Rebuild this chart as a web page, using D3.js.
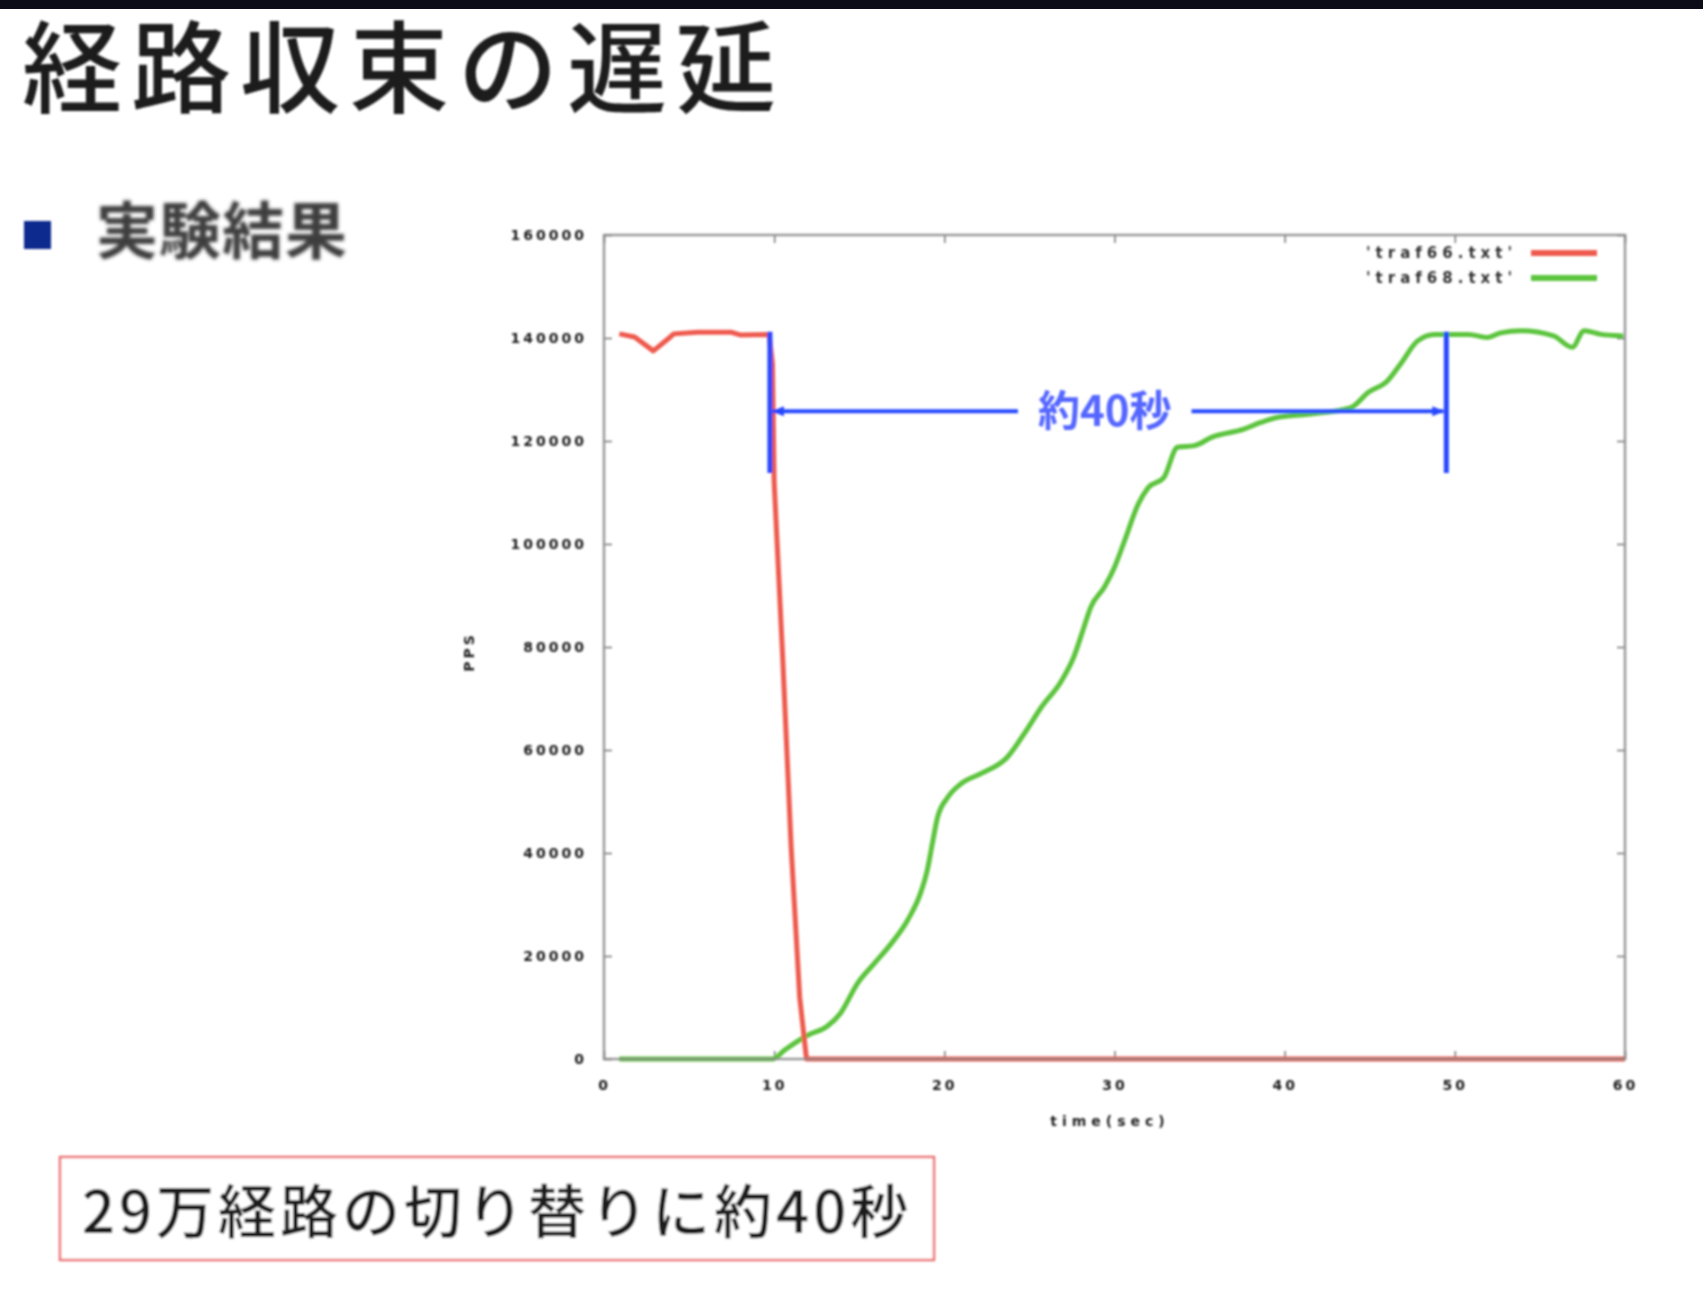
<!DOCTYPE html>
<html>
<head>
<meta charset="utf-8">
<script src="https://cdn.jsdelivr.net/npm/d3@7"></script>
<style>
  html, body { margin: 0; padding: 0; background: #ffffff; }
  svg { display: block; }
</style>
</head>
<body>
<svg id="slide" width="1703" height="1294"></svg>
<script>
// ---- slide text ----
const slideTitle = "経路収束の遅延";
const bulletText = "実験結果";
const noteText = "29万経路の切り替りに約40秒";
const spanLabel = "約40秒";

// ---- axes ----
const xTicks = [0, 10, 20, 30, 40, 50, 60];
const yTicks = [0, 20000, 40000, 60000, 80000, 100000, 120000, 140000, 160000];
const xAxisLabel = "time(sec)";
const yAxisLabel = "PPS";
const seriesNames = ["'traf66.txt'", "'traf68.txt'"];

// ---- series: packets per second over time ----
const redTime = [0.9, 1.8, 2.9, 3.9, 4.1, 5.5, 7.5, 8.0, 9.7, 9.9, 10.0, 10.5, 11.0, 11.5, 11.9, 60];
const redPps  = [140800, 140200, 137500, 140200, 140800, 141100, 141100, 140600, 140700, 135000, 112000, 78000, 41000, 12000, 0, 0];

const greenTime = [0.9, 9.9, 10.6, 12.0, 13.1, 13.9, 14.9, 15.9, 16.9, 17.85, 18.6, 19.0, 19.3, 19.6, 20.2, 21.0,
                   22.2, 23.7, 24.7, 25.7, 26.9, 27.6, 28.2, 28.6, 29.4, 30.0, 30.6, 31.4, 32.0, 32.9, 33.7, 34.7,
                   35.7, 37.6, 38.6, 39.6, 41.4, 43.9, 44.9, 46.05, 46.8, 47.8, 48.8, 49.6, 50.8, 51.9, 52.7, 53.9,
                   55.8, 56.9, 57.6, 58.6, 59.9];
const greenPps  = [0, 0, 1700, 4650, 6300, 8900, 14700, 18600, 22500, 27000, 32200, 36700, 41900, 46900, 50800, 53500,
                   55500, 58600, 63200, 68300, 73500, 78000, 83800, 87700, 91600, 95500, 100700, 107800, 111000, 112900, 118800, 119100,
                   120700, 122300, 123600, 124600, 125200, 126500, 129400, 131700, 134900, 139400, 140700, 140700, 140700, 140100, 141000, 141400,
                   140400, 138200, 141400, 140700, 140400];

// ---- convergence span annotation ----
const spanTimes = [9.75, 49.5];              // start / end of the switchover (s)
const spanLevels = [113800, 125800, 141200]; // bar bottom, arrow level, bar top

const svg = d3.select("#slide");
const defs = svg.append("defs");
const addBlur = (id, sd) => defs.append("filter").attr("id", id)
  .attr("filterUnits", "userSpaceOnUse")
  .attr("x", 0).attr("y", 0).attr("width", 1703).attr("height", 1294)
  .append("feGaussianBlur").attr("stdDeviation", sd);
addBlur("soft", 1.1);
addBlur("softer", 1.5);

svg.append("rect").attr("width", 1703).attr("height", 1294).attr("fill", "#ffffff");
svg.append("rect").attr("x", 0).attr("y", 0).attr("width", 1703).attr("height", 9).attr("fill", "#0c0c18");

const cjk = "'Noto Sans CJK JP', 'Noto Sans', sans-serif";

// ---- title and bullet ----
const head = svg.append("g").attr("filter", "url(#soft)");
head.append("text")
  .attr("x", 22).attr("y", 105)
  .attr("font-family", cjk).attr("font-size", 100).attr("font-weight", 500).attr("letter-spacing", 9)
  .attr("fill", "#1c1c1c")
  .text(slideTitle);
head.append("rect").attr("x", 24).attr("y", 221).attr("width", 27).attr("height", 28).attr("fill", "#0b2a8e");
head.append("text")
  .attr("x", 96).attr("y", 254)
  .attr("font-family", cjk).attr("font-size", 62).attr("font-weight", 700).attr("letter-spacing", 1)
  .attr("fill", "#3c3c3c")
  .attr("filter", "url(#softer)")
  .text(bulletText);

// ---- chart ----
const x = d3.scaleLinear().domain([0, 60]).range([604, 1625]);
const y = d3.scaleLinear().domain([0, 160000]).range([1059, 235]);

const chart = svg.append("g").attr("filter", "url(#soft)");

const tickFont = g => g.selectAll("text")
  .attr("font-family", "'DejaVu Sans', sans-serif")
  .attr("font-weight", "bold")
  .attr("font-size", 14)
  .attr("letter-spacing", 3)
  .attr("fill", "#1a1a1a");

const styleTicks = g => {
  g.select(".domain").remove();
  g.selectAll(".tick line").attr("stroke", "#777").attr("stroke-width", 1.5);
};

chart.append("g").attr("transform", `translate(${x(0)},0)`)
  .call(d3.axisLeft(y).tickValues(yTicks).tickFormat(d3.format("d")).tickSizeInner(-8).tickSizeOuter(0).tickPadding(17))
  .call(styleTicks).call(tickFont);
chart.append("g").attr("transform", `translate(${x(60)},0)`)
  .call(d3.axisRight(y).tickValues(yTicks).tickFormat("").tickSizeInner(-8).tickSizeOuter(0))
  .call(styleTicks);
chart.append("g").attr("transform", `translate(0,${y(0)})`)
  .call(d3.axisBottom(x).tickValues(xTicks).tickFormat(d3.format("d")).tickSizeInner(-8).tickSizeOuter(0).tickPadding(21))
  .call(styleTicks).call(tickFont);
chart.append("g").attr("transform", `translate(0,${y(160000)})`)
  .call(d3.axisTop(x).tickValues(xTicks).tickFormat("").tickSizeInner(-8).tickSizeOuter(0))
  .call(styleTicks);

// axis titles
chart.append("text")
  .attr("x", 1110).attr("y", 1126)
  .attr("text-anchor", "middle")
  .attr("font-family", "'DejaVu Sans', sans-serif").attr("font-weight", "bold")
  .attr("font-size", 14).attr("letter-spacing", 5).attr("fill", "#222")
  .text(xAxisLabel);
chart.append("text")
  .attr("transform", "translate(474,652) rotate(-90)")
  .attr("text-anchor", "middle")
  .attr("font-family", "'DejaVu Sans', sans-serif").attr("font-weight", "bold")
  .attr("font-size", 14).attr("letter-spacing", 3).attr("fill", "#222")
  .text(yAxisLabel);

// data lines
const red = redTime.map((t, i) => [t, redPps[i]]);
const green = greenTime.map((t, i) => [t, greenPps[i]]);

chart.append("path")
  .datum(green)
  .attr("d", d3.line().x(d => x(d[0])).y(d => y(d[1])).curve(d3.curveMonotoneX))
  .attr("fill", "none").attr("stroke", "#5cc43c").attr("stroke-width", 5)
  .attr("stroke-linejoin", "round");
chart.append("path")
  .datum(red)
  .attr("d", d3.line().x(d => x(d[0])).y(d => y(d[1])))
  .attr("fill", "none").attr("stroke", "#ee5a4e").attr("stroke-width", 5)
  .attr("stroke-linejoin", "round");

// plot border drawn over the lines
chart.append("rect")
  .attr("x", x(0)).attr("y", y(160000))
  .attr("width", x(60) - x(0)).attr("height", y(0) - y(160000))
  .attr("fill", "none").attr("stroke", "#8a8a8a").attr("stroke-width", 2.5)
  .attr("stroke-opacity", 0.85);

// legend
const legendColors = ["#ee5a4e", "#5cc43c"];
seriesNames.forEach((name, i) => {
  const ly = 253 + i * 25;
  chart.append("text")
    .attr("x", 1517).attr("y", ly + 5)
    .attr("text-anchor", "end")
    .attr("font-family", "'DejaVu Sans', sans-serif").attr("font-weight", "bold")
    .attr("font-size", 15).attr("letter-spacing", 5).attr("fill", "#333")
    .text(name);
  chart.append("line")
    .attr("x1", 1531).attr("x2", 1597).attr("y1", ly).attr("y2", ly)
    .attr("stroke", legendColors[i]).attr("stroke-width", 6);
});

// convergence span annotation
const blue = "#2546ff";
const ann = chart.append("g");
spanTimes.forEach(t => {
  ann.append("line")
    .attr("x1", x(t)).attr("x2", x(t))
    .attr("y1", y(spanLevels[2])).attr("y2", y(spanLevels[0]))
    .attr("stroke", blue).attr("stroke-width", 5);
});
const midT = (spanTimes[0] + spanTimes[1]) / 2 - 0.2;
const lbl = ann.append("text")
  .attr("x", x(midT)).attr("y", y(spanLevels[1]) + 15)
  .attr("text-anchor", "middle")
  .attr("font-family", cjk).attr("font-weight", 700)
  .attr("font-size", 42).attr("fill", "#5566ff")
  .text(spanLabel);
const bb = lbl.node().getBBox();
const pad = 20;
const ay = y(spanLevels[1]);
ann.append("line").attr("x1", x(spanTimes[0]) + 3).attr("x2", bb.x - pad).attr("y1", ay).attr("y2", ay)
  .attr("stroke", blue).attr("stroke-width", 4);
ann.append("line").attr("x1", bb.x + bb.width + pad).attr("x2", x(spanTimes[1]) - 3).attr("y1", ay).attr("y2", ay)
  .attr("stroke", blue).attr("stroke-width", 4);
// arrow heads
const xa = x(spanTimes[0]) + 2, xb = x(spanTimes[1]) - 2;
ann.append("path").attr("d", `M${xa},${ay} L${xa + 12},${ay - 5} L${xa + 12},${ay + 5} Z`).attr("fill", blue);
ann.append("path").attr("d", `M${xb},${ay} L${xb - 12},${ay - 5} L${xb - 12},${ay + 5} Z`).attr("fill", blue);

// ---- summary box ----
const note = svg.append("g").attr("filter", "url(#soft)");
note.append("rect")
  .attr("x", 60).attr("y", 1157).attr("width", 874).attr("height", 103)
  .attr("fill", "#ffffff").attr("stroke", "#ec7373").attr("stroke-width", 2.5);
note.append("text")
  .attr("x", 82).attr("y", 1233)
  .attr("font-family", cjk).attr("font-size", 58).attr("font-weight", 500).attr("letter-spacing", 4)
  .attr("fill", "#1e1e1e")
  .text(noteText);
</script>
</body>
</html>
